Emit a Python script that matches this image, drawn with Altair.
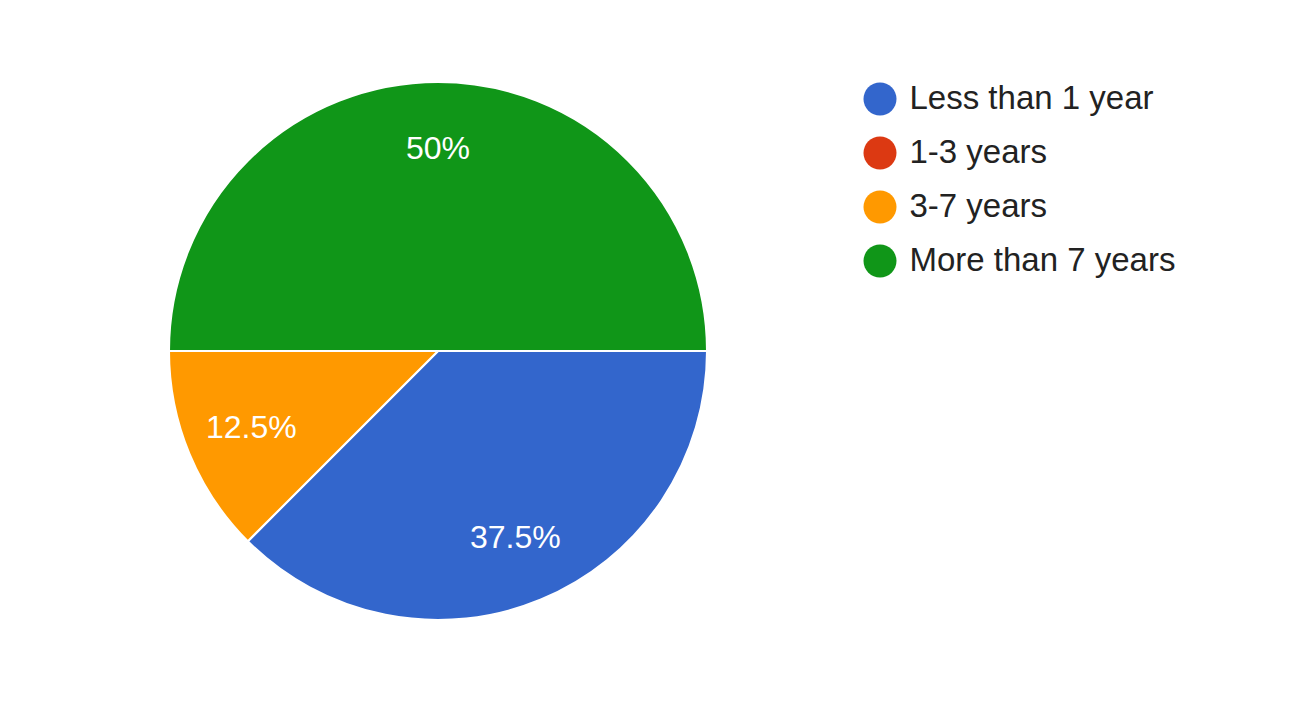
import math
import altair as alt
import pandas as pd

categories = ["Less than 1 year", "1-3 years", "3-7 years", "More than 7 years"]
counts = [3, 0, 1, 4]
colors = ["#3366cc", "#dc3912", "#ff9900", "#109618"]

df = pd.DataFrame({"category": categories, "count": counts, "idx": list(range(len(categories)))})

FONT = "Arial, Liberation Sans, sans-serif"
theta_scale = alt.Scale(range=[math.pi / 2, math.pi / 2 + 2 * math.pi])

base = alt.Chart(df).encode(
    theta=alt.Theta("count:Q", stack=True, scale=theta_scale),
    order=alt.Order("idx:Q"),
)

arcs = base.mark_arc(radius=269, stroke="white", strokeWidth=2).encode(
    color=alt.Color(
        "category:N",
        scale=alt.Scale(domain=categories, range=colors),
        sort=categories,
        legend=alt.Legend(
            title=None,
            orient="none",
            legendX=855.5,
            legendY=74.5,
            padding=0,
            symbolType="circle",
            symbolSize=1089,
            symbolStrokeWidth=0,
            symbolOpacity=1,
            labelFont=FONT,
            labelFontSize=33,
            labelColor="#222222",
            labelOffset=13,
            rowPadding=20,
            labelLimit=400,
        ),
    )
)

labels = (
    base.transform_joinaggregate(total="sum(count)")
    .transform_calculate(label="format(datum.count / datum.total, '.1~%')")
    .mark_text(radius=202, font=FONT, fontSize=32, color="white", baseline="middle", align="center")
    .encode(text=alt.Text("label:N"), opacity=alt.condition("datum.count > 0", alt.value(1), alt.value(0)))
)

chart = (
    alt.layer(arcs, labels)
    .properties(width=860, height=686, padding=0, background="white")
    .configure_view(stroke=None)
)

chart.save("out.html", embed_options={"renderer": "svg", "actions": False})
